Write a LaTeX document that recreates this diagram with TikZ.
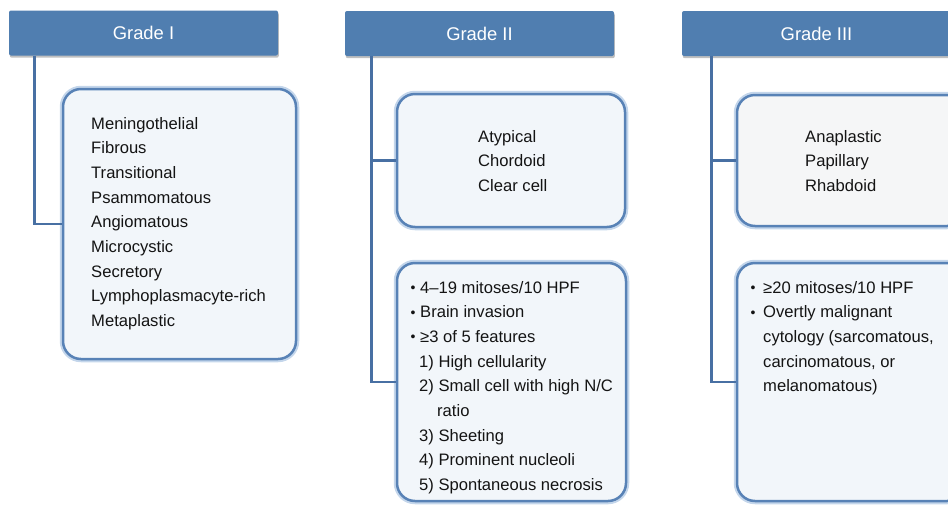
\documentclass[tikz,border=0pt]{standalone}
\usepackage{fontspec}
\setmainfont{Liberation Sans}
\usetikzlibrary{
positioning,
shadows
}
\definecolor{headblue}{RGB}{80,126,176}
\definecolor{linkblue}{RGB}{72,112,163}
\definecolor{rimblue}{RGB}{88,130,182}
\definecolor{glowblue}{RGB}{196,214,235}
\definecolor{panelfill}{RGB}{242,246,250}
\definecolor{greyfill}{RGB}{245,246,247}
\tikzset{>=latex}
\newcommand{\dotitem}[1]{\makebox[#1][l]{\hspace{0.3pt}\raisebox{0.6pt}{\fontsize{14}{14}\selectfont •}}}

\begin{document}
\begin{tikzpicture}[x=1pt, y=-1pt,
	header/.style={fill=headblue, text=white, rounded corners=2pt, minimum width=269pt, minimum height=45pt, inner sep=0pt, font=\fontsize{18.4}{22}\selectfont, drop shadow={shadow xshift=0.8pt, shadow yshift=-2.2pt, opacity=0.5}},
	panel/.style={draw=rimblue, line width=2.5pt, fill=panelfill, rounded corners=18pt, inner sep=0pt, preaction={draw=glowblue, line width=6.5pt}},
	link/.style={draw=linkblue, line width=2.8pt},
	body/.style={anchor=north west, inner sep=0pt, align=left, text=black!92, font=\fontsize{16.6}{24.7}\selectfont}]
		\useasboundingbox (0,0) rectangle (948,504);
		\clip (0,0) rectangle (948,504);

		\node[header] (hdrI) at (143.5,33) {Grade I};
		\node[header] (hdrII) at (479.5,33.5) {Grade II};
		\node[header] (hdrIII) at (816.5,33.5) {Grade III};

		\coordinate (stemI) at ([xshift=26pt]hdrI.south west);
		\coordinate (stemII) at ([xshift=27pt]hdrII.south west);
		\coordinate (stemIII) at ([xshift=30pt]hdrIII.south west);

		\node[panel, minimum width=233pt, minimum height=270pt] (boxI) at (179.5,224) {};
		\node[panel, minimum width=228pt, minimum height=133pt] (boxIIa) at (511,160.5) {};
		\node[panel, minimum width=229pt, minimum height=238pt] (boxIIb) at (511.5,382) {};
		\node[panel, fill=greyfill, minimum width=228pt, minimum height=131pt] (boxIIIa) at (851,160.5) {};
		\node[panel, minimum width=228pt, minimum height=238pt] (boxIIIb) at (851,382) {};

		% connectors from the grade headers
		\draw[link] (stemI) |- (boxI.west);
		\draw[link] (stemII) |- (boxIIb.west);
		\draw[link] (stemII |- boxIIa.west) -- (boxIIa.west);
		\draw[link] (stemIII) |- (boxIIIb.west);
		\draw[link] (stemIII |- boxIIIa.west) -- (boxIIIa.west);

		\node[body] (txtI) at (91,111.6) {\strut Meningothelial\\Fibrous\\Transitional\\Psammomatous\\Angiomatous\\Microcystic\\Secretory\\Lymphoplasmacyte-rich\\Metaplastic};
		\node[body] (txtIIa) at (478,124.6) {\strut Atypical\\Chordoid\\Clear cell};
		\node[body] (txtIIIa) at (805,124.6) {\strut Anaplastic\\Papillary\\Rhabdoid};
		\node[body] (txtIIb) at (410,275.6) {\strut\dotitem{10pt}4–19 mitoses/10 HPF\\
			\dotitem{10pt}Brain invasion\\
			\dotitem{10pt}≥3 of 5 features\\
			\hspace*{9pt}1) High cellularity\\
			\hspace*{9pt}2) Small cell with high N/C\\
			\hspace*{27pt}ratio\\
			\hspace*{9pt}3) Sheeting\\
			\hspace*{9pt}4) Prominent nucleoli\\
			\hspace*{9pt}5) Spontaneous necrosis};
		\node[body] (txtIIIb) at (750,275.6) {\strut\dotitem{13pt}≥20 mitoses/10 HPF\\
			\dotitem{13pt}Overtly malignant\\
			\hspace*{13pt}cytology (sarcomatous,\\
			\hspace*{13pt}carcinomatous, or\\
			\hspace*{13pt}melanomatous)};
\end{tikzpicture}
\end{document}
